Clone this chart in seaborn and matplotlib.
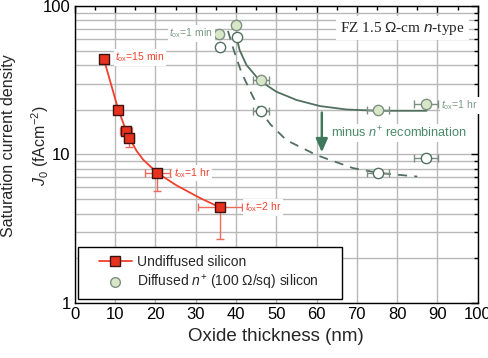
import matplotlib
matplotlib.use("Agg")
import matplotlib.pyplot as plt
import seaborn as sns
import numpy as np
from matplotlib.ticker import MultipleLocator, LogLocator, NullFormatter
from matplotlib.lines import Line2D
from matplotlib.patches import Rectangle

# Undiffused silicon (red squares)
undiff_x = [7.2, 10.8, 12.6, 13.4, 20.5, 36.0]
undiff_y = [44, 20, 14.5, 13, 7.5, 4.4]
undiff_xerr = [0, 0, 1.5, 1.2, 3.2, 5.5]
undiff_ylo = [0, 0, 0, 1.7, 1.8, 1.7]

# red guide curve
undiff_fit_x = [7.2, 10.8, 12.6, 13.5, 15.3, 17.0, 20.5, 25.2, 31.0, 36.0]
undiff_fit_y = [44, 20, 14.8, 13, 10.6, 9.2, 7.5, 6.2, 5.1, 4.4]

# Diffused n+ silicon (filled circles) and minus n+ recombination (open circles)
diff_x = [35.9, 40.1, 46.2, 75.3, 87.2]
diff_y = [65, 74, 32, 20, 21.8]
diff_xerr = [0, 0, 2.0, 2.7, 3.0]
open_x = [36.1, 40.2, 46.2, 75.3, 87.2]
open_y = [53, 62, 19.5, 7.5, 9.4]
open_xerr = [0, 0, 2.0, 2.7, 3.0]

# guide curves for the diffused samples
diff_fit_x = [39.9, 40.9, 42.6, 45.9, 50.0, 55.0, 60.8, 67.4, 75.3, 87.3]
diff_fit_y = [65.5, 50.5, 40.1, 31.4, 26.5, 23.3, 21.2, 20.1, 19.7, 19.7]
open_fit_x = [38.0, 39.5, 41.3, 44.2, 46.2, 48.5, 52.5, 60.0, 69.0, 75.5, 85.0]
open_fit_y = [68, 50, 36, 24.5, 19.5, 16, 12.5, 9.9, 8.1, 7.5, 7.1]

red = "#f0402c"
red_face = "#e8321e"
green_line = "#52705f"
green_text = "#4a8a68"
green_face = "#d9e7c9"
green_edge = "#7d8f80"

sns.set_style("whitegrid")
plt.rcParams['font.family'] = ['Liberation Sans', 'DejaVu Sans']
plt.rcParams['mathtext.fontset'] = 'custom'
plt.rcParams['mathtext.rm'] = 'Liberation Sans'
plt.rcParams['mathtext.it'] = 'Liberation Sans:italic'

fig = plt.figure(figsize=(4.89, 3.58), dpi=100)
ax = fig.add_axes([0.153, 0.154, 0.824, 0.829])

# guide curves
sns.lineplot(x=undiff_fit_x, y=undiff_fit_y, sort=False, color=red, lw=1.3, ax=ax, zorder=3)
sns.lineplot(x=diff_fit_x, y=diff_fit_y, sort=False, color=green_line, lw=1.3, ax=ax, zorder=3)
sns.lineplot(x=open_fit_x, y=open_fit_y, sort=False, color=green_line, lw=1.3,
             linestyle=(0, (5, 4)), ax=ax, zorder=3)

# error bars
ax.errorbar(undiff_x, undiff_y, xerr=undiff_xerr, yerr=[undiff_ylo, [0] * 6], fmt='none',
            ecolor="#f06a5a", elinewidth=1, capsize=3, zorder=4)
ax.errorbar(diff_x, diff_y, xerr=diff_xerr, fmt='none', ecolor=green_edge,
            elinewidth=1, capsize=3, zorder=4)
ax.errorbar(open_x, open_y, xerr=open_xerr, fmt='none', ecolor=green_edge,
            elinewidth=1, capsize=3, zorder=4)

# markers
sns.scatterplot(x=undiff_x, y=undiff_y, marker='s', s=60, color=red_face,
                edgecolor="#3a1410", linewidth=1, ax=ax, zorder=5)
sns.scatterplot(x=diff_x, y=diff_y, marker='o', s=55, color=green_face,
                edgecolor=green_edge, linewidth=1, ax=ax, zorder=5)
sns.scatterplot(x=open_x, y=open_y, marker='o', s=55, color='white',
                edgecolor=green_line, linewidth=1, ax=ax, zorder=5)

ax.set_yscale('log')
ax.set_xlim(0, 100)
ax.set_ylim(1, 100)
ax.xaxis.set_major_locator(MultipleLocator(10))
ax.xaxis.set_minor_locator(MultipleLocator(5))
ax.yaxis.set_minor_locator(LogLocator(base=10, subs=np.arange(2, 10)))
ax.yaxis.set_minor_formatter(NullFormatter())
ax.set_yticks([1, 10, 100])
ax.set_yticklabels(['1', '10', '100'])

ax.grid(which='major', axis='both', color='#b8b8b8', lw=1)
ax.grid(which='minor', axis='y', color='#b8b8b8', lw=1)
ax.grid(which='minor', axis='x', visible=False)
ax.set_axisbelow(True)
for s in ax.spines.values():
    s.set_color('black')
    s.set_linewidth(1)
ax.tick_params(which='both', direction='in', top=True, right=True, colors='black',
               labelsize=12, pad=3)
ax.tick_params(which='major', length=5, width=1)
ax.tick_params(which='minor', length=3, width=1)

ax.set_xlabel('Oxide thickness (nm)', fontsize=13.5, labelpad=4)
ax.set_ylabel('Saturation current density\n$J_0$ (fAcm$^{-2}$)', fontsize=11.5,
              linespacing=1.75)
ax.yaxis.set_label_coords(-0.06, 0.53)

box = dict(boxstyle='square,pad=0.15', fc='white', ec='none')
ax.text(10.0, 45, r'$t_{\rm ox}$=15 min', color=red, fontsize=7.5, va='center', ha='left', bbox=box, zorder=6)
ax.text(24.6, 7.5, r'$t_{\rm ox}$=1 hr', color=red, fontsize=7.5, va='center', ha='left', bbox=box, zorder=6)
ax.text(42.2, 4.4, r'$t_{\rm ox}$=2 hr', color=red, fontsize=7.5, va='center', ha='left', bbox=box, zorder=6)
ax.text(34.3, 65.5, r'$t_{\rm ox}$=1 min', color='#7a9a86', fontsize=7.5, va='center', ha='right', bbox=box, zorder=6)
ax.text(91.0, 21.5, r'$t_{\rm ox}$=1 hr', color='#7a9a86', fontsize=7.5, va='center', ha='left', bbox=box, zorder=6)

ax.text(96.8, 71, r'FZ 1.5 $\Omega$-cm $n$-type', family='Liberation Serif', fontsize=11,
        ha='right', va='center', bbox=dict(boxstyle='square,pad=0.25', fc='white', ec='none'), zorder=6)
ax.text(63.6, 14.0, r'minus $n^{+}$ recombination', color=green_text, fontsize=9.2,
        ha='left', va='center', bbox=dict(boxstyle='square,pad=0.1', fc='white', ec='none'), zorder=6)
ax.annotate('', xy=(61.3, 9.9), xytext=(61.3, 20),
            arrowprops=dict(arrowstyle='-|>,head_length=0.8,head_width=0.35', color='#3f7a5c', lw=1.8),
            zorder=6)

# legend: frame drawn as a box, entries without their own frame
ax.add_patch(Rectangle((0.0074, 0.0135), 0.655, 0.175, transform=ax.transAxes,
                       fc='white', ec='black', lw=1, zorder=9))
handles = [
    Line2D([], [], color=red, lw=1.3, marker='s', markersize=7.5, markerfacecolor=red_face,
           markeredgecolor="#3a1410"),
    Line2D([], [], color='none', marker='o', markersize=7, markerfacecolor=green_face,
           markeredgecolor=green_edge),
]
leg = ax.legend(handles, ['Undiffused silicon', r'Diffused $n^{+}$ (100 $\Omega$/sq) silicon'],
                loc='center left', bbox_to_anchor=(0.0596, 0.099), fontsize=10, frameon=False,
                handlelength=2.4, borderpad=0, labelspacing=0.35, handletextpad=0.35,
                borderaxespad=0)
leg.set_zorder(10)

fig.savefig('out.png', dpi=100)
